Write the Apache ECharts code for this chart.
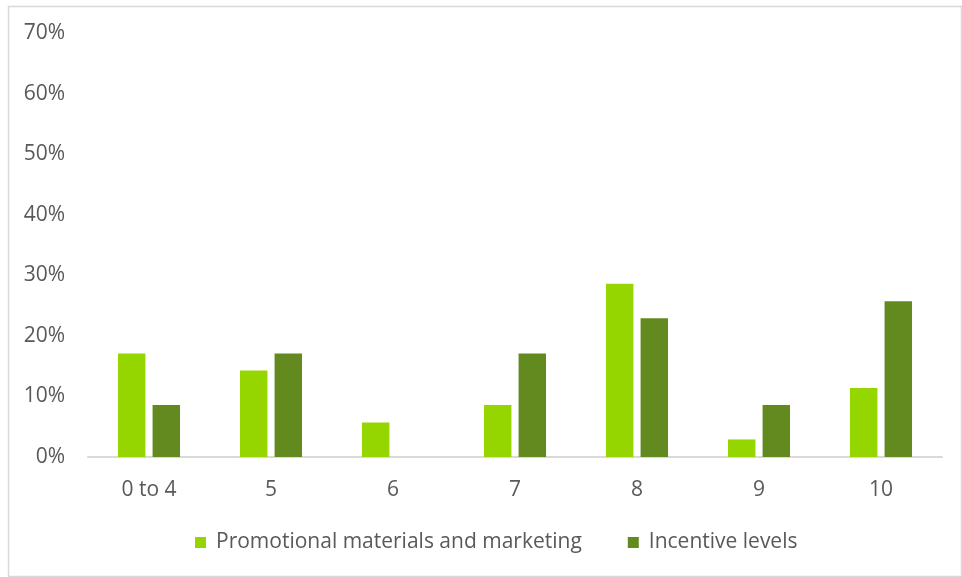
<!DOCTYPE html>
<html>
<head>
<meta charset="utf-8">
<style>
  html, body { margin: 0; padding: 0; background: #ffffff; }
  #chart { width: 962px; height: 577px; }
</style>
<script src="https://cdn.jsdelivr.net/npm/echarts@6/dist/echarts.min.js"></script>
</head>
<body>
<div id="chart"></div>
<script>
// Score bands and share of respondents (%) for each factor
const categories = ['0 to 4', '5', '6', '7', '8', '9', '10'];
const promotionalMarketing = [17.1, 14.3, 5.7, 8.6, 28.6, 2.9, 11.4];
const incentiveLevels = [8.6, 17.1, 0, 17.1, 22.9, 8.6, 25.7];
const seriesNames = ['Promotional materials and marketing', 'Incentive levels'];

const textColor = '#595959';
const fontFamily = 'Open Sans, Liberation Sans, sans-serif';

const chart = echarts.init(document.getElementById('chart'), null, { renderer: 'canvas' });

chart.setOption({
  backgroundColor: '#ffffff',
  animation: false,
  graphic: [{
    type: 'rect',
    left: 6, top: 4,
    shape: { width: 953, height: 570 },
    style: { fill: 'none', stroke: '#d9d9d9', lineWidth: 1.5 },
    silent: true
  }],
  grid: { left: 88, right: 20, top: 33, bottom: 120, containLabel: false },
  legend: {
    top: 527,
    left: 190,
    itemWidth: 11,
    itemHeight: 11,
    itemGap: 46,
    icon: 'rect',
    textStyle: { color: textColor, fontSize: 21, fontFamily: fontFamily, padding: [0, 0, 0, 5] },
    data: seriesNames
  },
  xAxis: {
    type: 'category',
    data: categories,
    axisLine: { lineStyle: { color: '#d9d9d9', width: 2 } },
    axisTick: { show: false },
    axisLabel: { color: textColor, fontSize: 21, fontFamily: fontFamily, margin: 23 }
  },
  yAxis: {
    type: 'value',
    min: 0, max: 70, interval: 10,
    splitLine: { show: false },
    axisLine: { show: false },
    axisTick: { show: false },
    axisLabel: { color: textColor, fontSize: 21, fontFamily: fontFamily, margin: 23, formatter: '{value}%' }
  },
  series: [
    {
      name: seriesNames[0],
      type: 'bar',
      data: promotionalMarketing,
      barWidth: '22.5%',
      barGap: '26%',
      itemStyle: { color: '#95d600' }
    },
    {
      name: seriesNames[1],
      type: 'bar',
      data: incentiveLevels,
      barWidth: '22.5%',
      itemStyle: { color: '#638a1e' }
    }
  ]
});
</script>
</body>
</html>
